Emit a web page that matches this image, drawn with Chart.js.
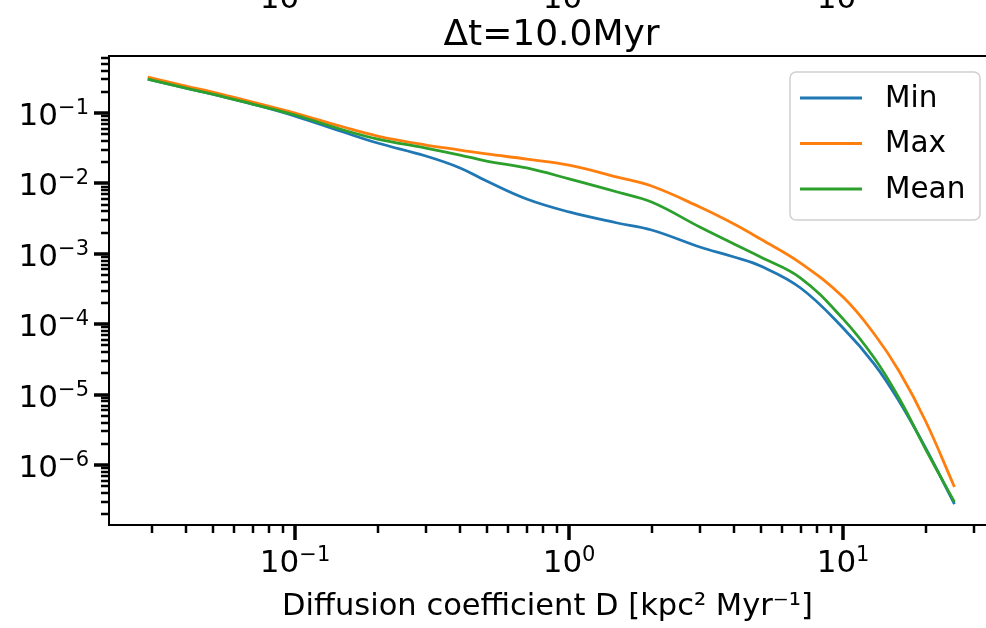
<!DOCTYPE html>
<html>
<head>
<meta charset="utf-8">
<script src="https://cdn.jsdelivr.net/npm/chart.js@4.4.1/dist/chart.umd.min.js"></script>
<style>
  html, body { margin: 0; padding: 0; background: #fff; }
  #chart { display: block; }
</style>
</head>
<body>
<canvas id="chart" width="986" height="628"></canvas>
<script>
// values (log-log)
var diffusion = [0.029, 0.04, 0.05, 0.07, 0.1, 0.15, 0.2, 0.3, 0.4, 0.5, 0.7, 1, 1.5, 2, 3, 4, 5, 7, 10, 13, 16, 20, 25.5];
var minVals = [0.304, 0.226, 0.186, 0.134, 0.0906, 0.0537, 0.0375, 0.0245, 0.0166, 0.0108, 0.006, 0.00393, 0.00274, 0.00218, 0.00125, 0.000901, 0.000671, 0.000327, 8.83e-5, 2.72e-5, 8.11e-6, 1.75e-6, 2.79e-7];
var maxVals = [0.324, 0.242, 0.199, 0.143, 0.1, 0.0633, 0.0471, 0.0351, 0.0298, 0.0262, 0.0222, 0.0182, 0.0123, 0.00918, 0.00462, 0.00265, 0.00162, 0.00074, 0.000243, 7.26e-5, 2.16e-5, 4.22e-6, 4.87e-7];
var meanVals = [0.304, 0.226, 0.186, 0.134, 0.0937, 0.0574, 0.0427, 0.0318, 0.0253, 0.0208, 0.0166, 0.0116, 0.00755, 0.00544, 0.0024, 0.00138, 0.000901, 0.000453, 0.000119, 3.31e-5, 8.95e-6, 1.69e-6, 2.98e-7];

var seriesNames = ["Min", "Max", "Mean"];
var seriesColors = ["#1f77b4", "#ff7f0e", "#2ca02c"];

// decade tick labels: base 10 with the exponent as superscript
var xDecades = [-1, 0, 1];
var xDecadeExps = ["−1", "0", "1"];
var yDecades = [-6, -5, -4, -3, -2, -1];
var yDecadeExps = ["−6", "−5", "−4", "−3", "−2", "−1"];

var plotTitle = "Δt=10.0Myr";
var xTitle = "Diffusion coefficient D [kpc² Myr⁻¹]";

var FONT = "'DejaVu Sans', sans-serif";
var TICK_PX = 31, SUP_PX = 21, SUP_RAISE = 11;

function logTicks(min, max) {
  var out = [];
  for (var e = Math.floor(Math.log10(min)); e <= Math.ceil(Math.log10(max)); e++) {
    for (var m = 1; m < 10; m++) {
      var v = m * Math.pow(10, e);
      if (v >= min && v <= max) out.push({ value: v, major: m === 1 });
    }
  }
  return out;
}

// draws "10" + superscript; anchor x is centre ("center") or right edge ("right")
function drawPow(ctx, exp, x, baseline, align) {
  ctx.font = TICK_PX + "px " + FONT;
  var wb = ctx.measureText("10").width;
  ctx.font = SUP_PX + "px " + FONT;
  var ws = ctx.measureText(exp).width;
  var x0 = align === "center" ? x - (wb + ws) / 2 : x - (wb + ws);
  ctx.textAlign = "left";
  ctx.textBaseline = "alphabetic";
  ctx.font = TICK_PX + "px " + FONT;
  ctx.fillText("10", x0, baseline);
  ctx.font = SUP_PX + "px " + FONT;
  ctx.fillText(exp, x0 + wb, baseline - SUP_RAISE);
}

var decor = {
  id: "decor",
  afterDraw: function (chart) {
    var ctx = chart.ctx, area = chart.chartArea;
    var xs = chart.scales.x, ys = chart.scales.y;
    ctx.save();
    ctx.strokeStyle = "#000";
    ctx.lineWidth = 2;
    ctx.beginPath();
    ctx.moveTo(area.left, area.top);
    ctx.lineTo(area.right, area.top);
    ctx.stroke();

    xs.ticks.forEach(function (t) {
      var px = Math.round(xs.getPixelForValue(t.value));
      ctx.lineWidth = t.major ? 3.5 : 2.5;
      ctx.beginPath();
      ctx.moveTo(px, area.bottom);
      ctx.lineTo(px, area.bottom + (t.major ? 15 : 8));
      ctx.stroke();
    });
    ys.ticks.forEach(function (t) {
      var py = Math.round(ys.getPixelForValue(t.value));
      ctx.lineWidth = t.major ? 3.5 : 2.5;
      ctx.beginPath();
      ctx.moveTo(area.left, py);
      ctx.lineTo(area.left - (t.major ? 15 : 8), py);
      ctx.stroke();
    });

    ctx.fillStyle = "#000";
    xDecades.forEach(function (e, i) {
      drawPow(ctx, xDecadeExps[i], xs.getPixelForValue(Math.pow(10, e)), area.bottom + 47, "center");
      // tick labels of the panel above, cut off by the image edge
      drawPow(ctx, xDecadeExps[i], xs.getPixelForValue(Math.pow(10, e)), 8, "center");
    });
    yDecades.forEach(function (e, i) {
      drawPow(ctx, yDecadeExps[i], area.left - 20, ys.getPixelForValue(Math.pow(10, e)) + 12, "right");
    });

    // title
    ctx.font = "36px " + FONT;
    ctx.textAlign = "center";
    ctx.textBaseline = "alphabetic";
    ctx.fillText(plotTitle, (area.left + area.right) / 2 + 4, 45);

    // legend
    var lx = 790, ly = 72, lw = 190, lh = 148;
    ctx.beginPath();
    ctx.roundRect(lx, ly, lw, lh, 6);
    ctx.fillStyle = "rgba(255,255,255,0.8)";
    ctx.fill();
    ctx.strokeStyle = "#d0d0d0";
    ctx.lineWidth = 1.5;
    ctx.stroke();
    ctx.font = "29.5px " + FONT;
    ctx.textAlign = "left";
    ctx.textBaseline = "middle";
    chart.data.datasets.forEach(function (ds, i) {
      var yy = ly + 26 + i * 45.5;
      ctx.strokeStyle = ds.borderColor;
      ctx.lineWidth = 2.8;
      ctx.beginPath();
      ctx.moveTo(lx + 10, yy);
      ctx.lineTo(lx + 72, yy);
      ctx.stroke();
      ctx.fillStyle = "#000";
      ctx.fillText(ds.label, lx + 95, yy + 1);
    });
    ctx.restore();
  }
};

var series = [minVals, maxVals, meanVals];
var datasets = series.map(function (vals, i) {
  return {
    label: seriesNames[i],
    data: diffusion.map(function (d, j) { return { x: d, y: vals[j] }; }),
    borderColor: seriesColors[i],
    backgroundColor: seriesColors[i],
    borderWidth: 2.8,
    pointRadius: 0,
    tension: 0.4,
    order: [2, 1, 0][i]
  };
});

new Chart(document.getElementById("chart"), {
  type: "line",
  data: { datasets: datasets },
  options: {
    responsive: false,
    animation: false,
    events: [],
    layout: { padding: { top: 56, right: 0, left: 0, bottom: 0 } },
    plugins: {
      legend: { display: false },
      tooltip: { enabled: false },
      title: { display: false }
    },
    scales: {
      x: {
        type: "logarithmic",
        min: 0.02094,
        max: 33.24,
        grid: { display: false },
        border: { display: true, color: "#000", width: 2 },
        afterBuildTicks: function (scale) { scale.ticks = logTicks(scale.min, scale.max); },
        afterFit: function (scale) { scale.height = 103; },
        ticks: { autoSkip: false, maxRotation: 0, callback: function () { return ""; } },
        title: {
          display: true,
          text: xTitle,
          color: "#000",
          font: { family: FONT, size: 30.5 },
          padding: { top: 0, bottom: 3 }
        }
      },
      y: {
        type: "logarithmic",
        min: 1.406e-7,
        max: 0.6457,
        grid: { display: false },
        border: { display: true, color: "#000", width: 2 },
        afterBuildTicks: function (scale) { scale.ticks = logTicks(scale.min, scale.max); },
        afterFit: function (scale) { scale.width = 109; },
        ticks: { autoSkip: false, callback: function () { return ""; } }
      }
    }
  },
  plugins: [decor]
});
</script>
</body>
</html>
